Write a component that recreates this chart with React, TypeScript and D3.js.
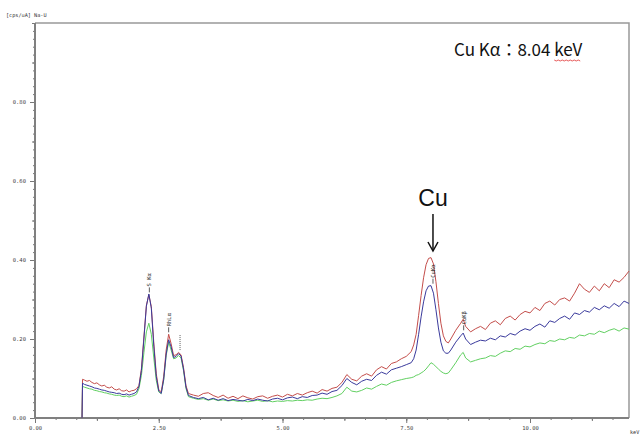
import React, { useEffect, useRef } from "react";
import * as d3 from "d3";

// Chart size (same as the window)
const W = 643;
const H = 435;
const plot = { left: 35, right: 629, top: 23, bottom: 418 };

// Energy axis [keV] and the three spectra [cps/uA]
const energy = [
  0.95, 0.96, 1.0, 1.05, 1.1, 1.15, 1.2, 1.25, 1.3, 1.35, 1.4, 1.45, 1.5, 1.55, 1.6, 1.65, 1.7, 1.75, 1.8, 1.85, 1.9, 1.95, 2.0, 2.05,
  2.1, 2.15, 2.2, 2.25, 2.3, 2.35, 2.4, 2.45, 2.5, 2.55, 2.6, 2.65, 2.7, 2.75, 2.8, 2.85, 2.9, 2.95, 3.0, 3.05, 3.1,
  3.2, 3.3, 3.4, 3.5, 3.6, 3.7, 3.8, 3.9, 4.0, 4.1, 4.2, 4.3, 4.4, 4.5, 4.6, 4.7, 4.8, 4.9, 5.0, 5.1, 5.2, 5.3, 5.4,
  5.5, 5.6, 5.7, 5.8, 5.9, 6.0, 6.1, 6.2, 6.3, 6.4, 6.5, 6.6, 6.7, 6.8, 6.9, 7.0, 7.1, 7.2, 7.3, 7.4, 7.5,
  7.6, 7.65, 7.7, 7.75, 7.8, 7.85, 7.9, 7.95, 8.0, 8.05, 8.1, 8.15, 8.2, 8.25, 8.3, 8.35, 8.4, 8.5, 8.6, 8.65, 8.7, 8.8, 8.9, 9.0,
  9.1, 9.2, 9.3, 9.4, 9.5, 9.6, 9.7, 9.8, 9.9, 10.0, 10.1, 10.2, 10.3, 10.4, 10.5, 10.6, 10.7, 10.8, 10.9, 11.0,
  11.1, 11.2, 11.3, 11.4, 11.5, 11.6, 11.7, 11.8, 11.9, 12.0,
];

const specRed = [
  0, 0.098, 0.096, 0.093, 0.095, 0.09, 0.087, 0.089, 0.084, 0.081, 0.083, 0.078, 0.076, 0.079, 0.073, 0.071, 0.074, 0.069, 0.068, 0.071, 0.066, 0.069, 0.07, 0.074,
  0.082, 0.125, 0.205, 0.285, 0.312, 0.282, 0.19, 0.112, 0.072, 0.066, 0.105, 0.172, 0.212, 0.188, 0.158, 0.16, 0.166, 0.16, 0.128, 0.082, 0.062,
  0.058, 0.055, 0.062, 0.064, 0.057, 0.052, 0.058, 0.05, 0.055, 0.049, 0.056, 0.051, 0.048, 0.054, 0.056, 0.05, 0.055, 0.058, 0.053, 0.06, 0.056, 0.062, 0.058,
  0.064, 0.068, 0.063, 0.072, 0.068, 0.075, 0.078, 0.09, 0.11, 0.098, 0.094, 0.106, 0.112, 0.106, 0.122, 0.13, 0.124, 0.138, 0.142, 0.15, 0.156,
  0.168, 0.185, 0.212, 0.26, 0.31, 0.355, 0.388, 0.404, 0.406, 0.39, 0.345, 0.29, 0.24, 0.208, 0.194, 0.19, 0.2, 0.222, 0.24, 0.25, 0.232, 0.218, 0.226, 0.232,
  0.224, 0.24, 0.246, 0.236, 0.252, 0.258, 0.248, 0.262, 0.27, 0.266, 0.28, 0.272, 0.29, 0.296, 0.286, 0.3, 0.304, 0.296, 0.316, 0.34,
  0.326, 0.318, 0.334, 0.322, 0.34, 0.33, 0.35, 0.344, 0.356, 0.372,
];

const specBlue = [
  0, 0.088, 0.085, 0.083, 0.081, 0.079, 0.076, 0.075, 0.073, 0.071, 0.07, 0.068, 0.066, 0.065, 0.064, 0.062, 0.063, 0.06, 0.059, 0.061, 0.058, 0.06, 0.062, 0.066,
  0.08, 0.12, 0.2, 0.283, 0.314, 0.278, 0.182, 0.105, 0.068, 0.062, 0.098, 0.162, 0.198, 0.18, 0.153, 0.156, 0.163, 0.157, 0.124, 0.078, 0.057,
  0.052, 0.049, 0.052, 0.046, 0.05, 0.045, 0.049, 0.044, 0.047, 0.045, 0.043, 0.047, 0.044, 0.048, 0.045, 0.043, 0.048, 0.05, 0.046, 0.051, 0.053, 0.049, 0.054,
  0.052, 0.057, 0.058, 0.063, 0.06, 0.067, 0.07, 0.082, 0.1, 0.09, 0.084, 0.093, 0.098, 0.095, 0.108, 0.116, 0.111, 0.122, 0.126, 0.13, 0.135,
  0.14, 0.15, 0.172, 0.212, 0.256, 0.294, 0.322, 0.334, 0.335, 0.316, 0.274, 0.228, 0.192, 0.17, 0.164, 0.164, 0.172, 0.192, 0.208, 0.215, 0.2, 0.186, 0.192, 0.197,
  0.195, 0.202, 0.198, 0.208, 0.205, 0.214, 0.21, 0.22, 0.226, 0.222, 0.232, 0.238, 0.23, 0.246, 0.242, 0.252, 0.258, 0.25, 0.266, 0.262,
  0.272, 0.268, 0.28, 0.274, 0.284, 0.278, 0.29, 0.282, 0.296, 0.29,
];

const specGreen = [
  0, 0.08, 0.078, 0.076, 0.074, 0.073, 0.07, 0.069, 0.067, 0.066, 0.064, 0.063, 0.061, 0.06, 0.058, 0.057, 0.058, 0.055, 0.054, 0.056, 0.053, 0.055, 0.057, 0.06,
  0.074, 0.108, 0.165, 0.218, 0.24, 0.212, 0.152, 0.095, 0.066, 0.062, 0.096, 0.158, 0.192, 0.172, 0.15, 0.152, 0.158, 0.152, 0.12, 0.075, 0.054,
  0.05, 0.047, 0.049, 0.045, 0.048, 0.044, 0.046, 0.043, 0.045, 0.042, 0.044, 0.041, 0.043, 0.045, 0.042, 0.044, 0.041, 0.043, 0.042, 0.044, 0.043, 0.045, 0.044,
  0.046, 0.045, 0.048, 0.05, 0.049, 0.052, 0.056, 0.062, 0.078, 0.068, 0.066, 0.07, 0.076, 0.073, 0.08, 0.086, 0.083, 0.09, 0.094, 0.097, 0.1,
  0.102, 0.104, 0.108, 0.11, 0.114, 0.118, 0.124, 0.132, 0.14, 0.136, 0.13, 0.124, 0.118, 0.114, 0.112, 0.114, 0.122, 0.14, 0.16, 0.166, 0.152, 0.142, 0.146, 0.15,
  0.152, 0.158, 0.156, 0.164, 0.17, 0.168, 0.176, 0.174, 0.182, 0.18, 0.186, 0.19, 0.188, 0.196, 0.194, 0.2, 0.198, 0.204, 0.202, 0.21,
  0.208, 0.214, 0.212, 0.22, 0.216, 0.222, 0.226, 0.22, 0.228, 0.225,
];

// Tick labels
const yTickValues = [0, 0.2, 0.4, 0.6, 0.8];
const xTickValues = [0, 2.5, 5, 7.5, 10];

// Peak markers
const peakNames = ["S Kα", "RhLα", "", "CuKα", "CuKβ"];
const peakEnergies = [2.31, 2.7, 2.93, 8.04, 8.66];
const peakLabelBase = [0.318, 0.217, 0.172, 0.34, 0.222];

const mono = "'DejaVu Sans Mono', monospace";

function App() {
  const ref = useRef<SVGSVGElement | null>(null);

  useEffect(() => {
    const svg = d3.select(ref.current).html("").attr("width", W).attr("height", H);
    svg.append("rect").attr("width", W).attr("height", H).attr("fill", "#fff");

    const x = d3.scaleLinear().domain([0, 12]).range([plot.left, plot.right]);
    const y = d3.scaleLinear().domain([0, 1]).range([plot.bottom, plot.top]);

    // ticks: minor / medium / major
    const yMinor = d3.range(0, 51).map((i) => i * 0.02);
    const yMid = d3.range(0, 11).map((i) => i * 0.1);
    const xMinor = d3.range(0, 29).map((i) => (i * 2.5) / 6);
    const xMid = d3.range(0, 10).map((i) => i * 1.25);

    const tickAxis = (g: any) => {
      g.select(".domain").remove();
      g.selectAll("line").attr("stroke", "#777");
      g.selectAll("text").attr("font-family", mono).attr("font-size", 5.5).attr("fill", "#444");
    };

    svg.append("g").attr("transform", `translate(${plot.left},0)`)
      .call(d3.axisLeft(y).tickValues(yMinor).tickSize(2).tickFormat(() => "")).call(tickAxis);
    svg.append("g").attr("transform", `translate(${plot.left},0)`)
      .call(d3.axisLeft(y).tickValues(yMid).tickSize(3).tickFormat(() => "")).call(tickAxis);
    svg.append("g").attr("transform", `translate(${plot.left},0)`)
      .call(d3.axisLeft(y).tickValues(yTickValues).tickSize(5).tickPadding(4).tickFormat(d3.format(".2f"))).call(tickAxis);

    svg.append("g").attr("transform", `translate(0,${plot.bottom})`)
      .call(d3.axisBottom(x).tickValues(xMinor).tickSize(2).tickFormat(() => "")).call(tickAxis);
    svg.append("g").attr("transform", `translate(0,${plot.bottom})`)
      .call(d3.axisBottom(x).tickValues(xMid).tickSize(3).tickFormat(() => "")).call(tickAxis);
    svg.append("g").attr("transform", `translate(0,${plot.bottom})`)
      .call(d3.axisBottom(x).tickValues(xTickValues).tickSize(5).tickPadding(3).tickFormat(d3.format(".2f"))).call(tickAxis);

    // frame
    svg.append("path")
      .attr("d", `M${plot.left},${plot.top}H${plot.right}V${plot.bottom}`)
      .attr("fill", "none").attr("stroke", "#999").attr("stroke-width", 1.5);
    svg.append("path")
      .attr("d", `M${plot.left},${plot.top}V${plot.bottom}H${plot.right}`)
      .attr("fill", "none").attr("stroke", "#808080").attr("stroke-width", 2);

    // spectra
    const series: [number[], string][] = [
      [specGreen, "#62d062"],
      [specRed, "#c44e4b"],
      [specBlue, "#3a3a9c"],
    ];
    series.forEach(([vals, color]) => {
      const line = d3.line<number>()
        .x((d, i) => x(energy[i]))
        .y((d) => y(d));
      svg.append("path")
        .datum(vals)
        .attr("fill", "none")
        .attr("stroke", color)
        .attr("stroke-width", 1)
        .attr("stroke-linejoin", "round")
        .attr("d", line);
    });

    // peak labels
    peakEnergies.forEach((e, i) => {
      const px = x(e);
      const py = y(peakLabelBase[i]);
      if (!peakNames[i]) {
        svg.append("line")
          .attr("x1", px).attr("x2", px).attr("y1", py).attr("y2", py - 16)
          .attr("stroke", "#333").attr("stroke-width", 0.8).attr("stroke-dasharray", "1,1");
        return;
      }
      svg.append("line")
        .attr("x1", px).attr("x2", px).attr("y1", py).attr("y2", py - 5)
        .attr("stroke", "#333").attr("stroke-width", 0.8);
      svg.append("text")
        .attr("transform", `translate(${px + 2},${py - 6}) rotate(-90)`)
        .attr("font-family", mono).attr("font-size", 5.5).attr("fill", "#333")
        .text(peakNames[i]);
    });

    // unit labels
    svg.append("text").attr("x", 6).attr("y", 17)
      .attr("font-family", mono).attr("font-size", 5.2).attr("fill", "#333")
      .text("[cps/uA] Na-U");
    svg.append("text").attr("x", 630).attr("y", 434)
      .attr("font-family", mono).attr("font-size", 5.2).attr("fill", "#333")
      .text("keV");

    // annotation: Cu arrow
    const cuX = x(8.04);
    svg.append("text").attr("x", cuX).attr("y", 206)
      .attr("text-anchor", "middle")
      .attr("font-family", "'Liberation Sans', Arial, sans-serif").attr("font-size", 23).attr("fill", "#111")
      .text("Cu");
    svg.append("line").attr("x1", cuX).attr("x2", cuX).attr("y1", 214).attr("y2", 251)
      .attr("stroke", "#111").attr("stroke-width", 1.5);
    svg.append("path").attr("d", `M${cuX - 5},${242}L${cuX},${251}L${cuX + 5},${242}`)
      .attr("fill", "none").attr("stroke", "#111").attr("stroke-width", 1.5);

    // annotation: Cu Kα energy, with a spell-check squiggle under "keV"
    const font = "'Noto Sans CJK JP', 'Noto Sans', sans-serif";
    const t1 = svg.append("text").attr("x", 454).attr("y", 56)
      .attr("font-family", font).attr("font-size", 17).attr("fill", "#111")
      .text("Cu\u00a0Kα：8.04\u00a0");
    const w1 = (t1.node() as SVGTextElement).getComputedTextLength();
    const sx = 454 + w1;
    const t2 = svg.append("text").attr("x", sx).attr("y", 56)
      .attr("font-family", font).attr("font-size", 17).attr("fill", "#111")
      .text("keV");
    const w2 = (t2.node() as SVGTextElement).getComputedTextLength();
    const zig = d3.range(0, Math.floor(w2 / 2) + 1).map((i) => [sx + i * 2, 60 + (i % 2 ? 1 : 0)] as [number, number]);
    svg.append("path").attr("d", d3.line()(zig))
      .attr("fill", "none").attr("stroke", "#e03030").attr("stroke-width", 0.8);
  }, []);

  return <svg ref={ref} style={{ position: "absolute", left: 0, top: 0, display: "block" }} />;
}

export default App;
